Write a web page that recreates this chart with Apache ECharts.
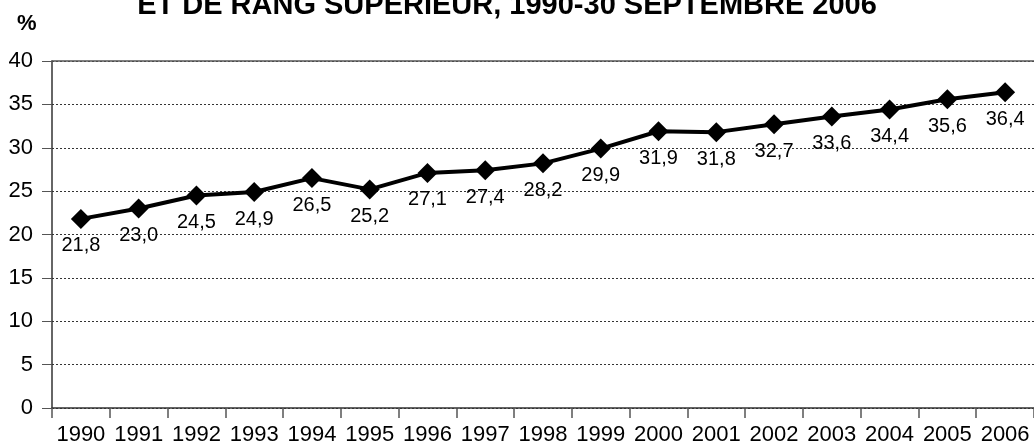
<!DOCTYPE html>
<html>
<head>
<meta charset="utf-8">
<script src="https://cdn.jsdelivr.net/npm/echarts@6/dist/echarts.min.js"></script>
<style>
html, body { margin: 0; padding: 0; background: #fff; }
#main { width: 1034px; height: 446px; }
</style>
</head>
<body>
<div id="main"></div>
<script>
var years = ['1990', '1991', '1992', '1993', '1994', '1995', '1996', '1997', '1998',
    '1999', '2000', '2001', '2002', '2003', '2004', '2005', '2006'];
var rates = [21.8, 23.0, 24.5, 24.9, 26.5, 25.2, 27.1, 27.4, 28.2,
    29.9, 31.9, 31.8, 32.7, 33.6, 34.4, 35.6, 36.4];
var titleText = 'ET DE RANG SUPÉRIEUR, 1990-30 SEPTEMBRE 2006';

var myChart = echarts.init(document.getElementById('main'));
var option = {
    backgroundColor: '#fff',
    animation: false,
    title: [{
        text: titleText,
        left: 502,
        textAlign: 'center',
        top: -14,
        textStyle: { fontFamily: 'Liberation Sans', fontWeight: 'bold', fontSize: 29, color: '#000' }
    }, {
        text: '%',
        left: 12,
        top: 8,
        textStyle: { fontFamily: 'Liberation Sans', fontWeight: 'bold', fontSize: 22, color: '#000' }
    }],
    grid: {
        left: 52,
        right: 0,
        top: 61,
        bottom: 37
    },
    xAxis: [{
        type: 'category',
        data: years,
        boundaryGap: true,
        axisLine: { lineStyle: { color: '#333', width: 1.5 } },
        axisTick: { show: true, length: 10, lineStyle: { color: '#555', width: 1.5 } },
        axisLabel: { color: '#000', fontFamily: 'Liberation Sans', fontSize: 22, margin: 16, interval: 0 }
    }, {
        // top frame line of the plot area
        type: 'category',
        data: years,
        position: 'top',
        axisLine: { show: true, lineStyle: { color: '#555', width: 1.5 } },
        axisTick: { show: false },
        axisLabel: { show: false }
    }],
    yAxis: {
        type: 'value',
        min: 0,
        max: 40,
        interval: 5,
        axisLine: { show: true, lineStyle: { color: '#333', width: 1.5 } },
        axisTick: { show: true, length: 10, lineStyle: { color: '#555' } },
        axisLabel: { color: '#000', fontFamily: 'Liberation Sans', fontSize: 22, margin: 19 },
        splitLine: { show: true, lineStyle: { color: '#333', type: [2, 2], width: 1 } }
    },
    series: [{
        type: 'line',
        data: rates,
        symbol: 'diamond',
        symbolSize: 20,
        itemStyle: { color: '#000' },
        lineStyle: { color: '#000', width: 4 },
        label: {
            show: true,
            position: 'bottom',
            distance: 7,
            color: '#000',
            fontFamily: 'Liberation Sans',
            fontSize: 20,
            formatter: function (p) {
                return p.value.toFixed(1).replace('.', ',');
            }
        }
    }]
};
myChart.setOption(option);
</script>
</body>
</html>
